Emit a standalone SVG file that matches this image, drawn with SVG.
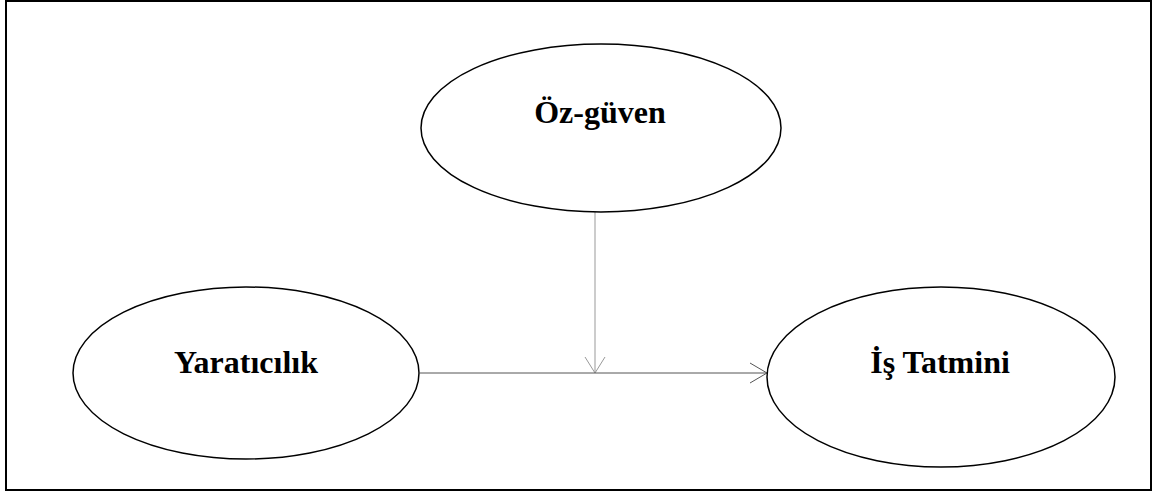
<svg xmlns="http://www.w3.org/2000/svg" width="1164" height="492" viewBox="0 0 1164 492">
<style>
.node{fill:#fff;stroke:#000;stroke-width:1.5}
.lbl{font-family:"Liberation Serif","Times New Roman",serif;font-weight:bold;font-size:32px;fill:#000;text-anchor:middle}
.arrow{fill:none;stroke-width:1}
</style>
<rect x="0" y="0" width="1164" height="492" fill="#fff"/>
<rect x="6" y="1" width="1145" height="489" fill="none" stroke="#000" stroke-width="2"/>
<g id="connectors">
<path class="arrow" stroke="#999" d="M595,212 V373 M585,357 L595,373 L605,357"/>
<path class="arrow" stroke="#555" d="M420,373 H767 M750,363 L767,373 L750,383"/>
</g>
<g id="oz-guven">
<ellipse class="node" cx="601" cy="128" rx="180" ry="84"/>
<text class="lbl" x="600" y="123">Öz-güven</text>
</g>
<g id="yaraticilik">
<ellipse class="node" cx="246" cy="373" rx="173" ry="86"/>
<text class="lbl" x="246" y="373">Yaratıcılık</text>
</g>
<g id="is-tatmini">
<ellipse class="node" cx="941" cy="377" rx="174" ry="90"/>
<text class="lbl" x="940" y="373">İş Tatmini</text>
</g>
</svg>
